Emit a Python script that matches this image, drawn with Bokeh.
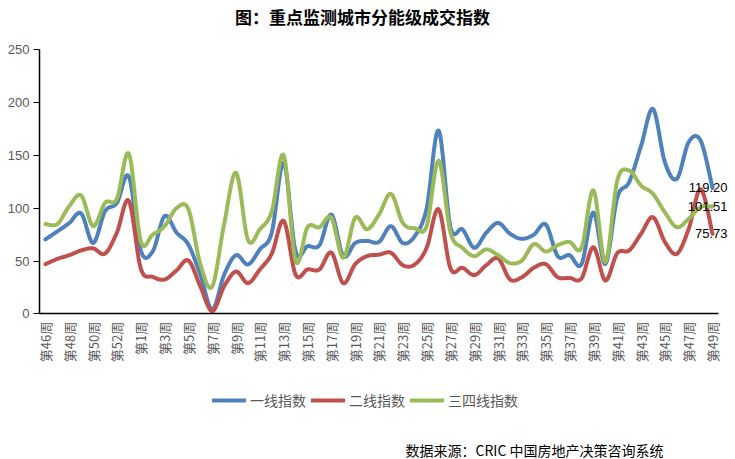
import numpy as np
from bokeh.plotting import figure
from bokeh.models import (Range1d, FixedTicker, Label, Legend, LegendItem)
from bokeh.embed import file_html
from bokeh.resources import INLINE

# ---- data ----
weeks = [46, 47, 48, 49, 50, 51, 52, 53] + list(range(1, 50))
tick_labels = ["第%d周" % w for w in weeks]

series_names = ["一线指数", "二线指数", "三四线指数"]

tier1 = [70.5, 78, 86, 95, 67, 97, 105, 130, 60, 59,
         92.5, 77, 65.5, 37, 4, 37, 55.5, 46.7, 61, 77,
         143, 59, 64, 65, 94, 54.6, 67, 69, 68, 83,
         67, 73.5, 100, 173.6, 82, 80, 62.5, 76.7, 86, 75.8,
         71, 75, 84.6, 54.6, 55.5, 47, 96, 47, 110, 124.7,
         159, 194, 143.6, 127.8, 162.6, 164, 119.20]

tier2 = [47, 52, 55.5, 60, 62, 57, 77, 107, 43, 35,
         32.5, 41, 50.5, 26, 2.5, 26, 40, 29, 42, 57,
         88, 37, 42, 42, 58, 29, 47, 54.6, 56, 57.8,
         46, 46.7, 62.5, 99, 43, 43.6, 36.6, 46, 52.4, 32.5,
         34.7, 43.6, 47, 34.7, 34, 33.5, 63, 31.5, 57.4, 60,
         75.8, 91.5, 68, 56.8, 80.5, 118, 75.73]

tier34 = [85, 85, 102, 112, 83, 105, 109, 151.5, 69, 75,
          83, 100, 99, 47, 26, 85, 133.5, 70, 80, 97,
          150, 50, 82, 82, 91, 53, 91, 80, 94, 113.6,
          86, 81, 83, 145, 77, 62.5, 54.6, 61, 55.5, 48,
          50.5, 66, 59, 65, 68, 62.5, 117, 49, 126, 135.7,
          121.5, 113.6, 96, 82, 90, 101, 101.51]

colors = ["#4F81BD", "#C0504D", "#9BBB59"]
title_text = "图：重点监测城市分能级成交指数"
source_text = "数据来源：CRIC 中国房地产决策咨询系统"


def smooth(ys, n=16):
    """Excel-like smoothed line: cubic Bezier between consecutive points."""
    x = np.arange(len(ys), dtype=float)
    y = np.asarray(ys, dtype=float)
    px = np.concatenate([[x[0]], x, [x[-1]]])
    py = np.concatenate([[y[0]], y, [y[-1]]])
    outx, outy = [], []
    t = np.linspace(0, 1, n, endpoint=False)
    for i in range(len(y) - 1):
        p0x, p0y = px[i + 1], py[i + 1]
        p3x, p3y = px[i + 2], py[i + 2]
        c1x = p0x + (px[i + 2] - px[i]) / 6.0
        c1y = p0y + (py[i + 2] - py[i]) / 6.0
        c2x = p3x - (px[i + 3] - px[i + 1]) / 6.0
        c2y = p3y - (py[i + 3] - py[i + 1]) / 6.0
        a = (1 - t) ** 3
        b = 3 * (1 - t) ** 2 * t
        c = 3 * (1 - t) * t ** 2
        d = t ** 3
        outx.extend(a * p0x + b * c1x + c * c2x + d * p3x)
        outy.extend(a * p0y + b * c1y + c * c2y + d * p3y)
    outx.append(x[-1])
    outy.append(y[-1])
    return outx, outy


n = len(weeks)
W, H = 735, 459
# plot area in the canvas: x 39..718, y 49.3..313.3
px_per_x = 679.0 / n
px_per_y = 264.0 / 250.0
x0 = -0.5 - 39.0 / px_per_x
x1 = n - 0.5 + (W - 718.0) / px_per_x
y1 = 250 + 49.3 / px_per_y
y0 = -(H - 313.3) / px_per_y

p = figure(width=W, height=H, output_backend="svg", toolbar_location=None,
           x_range=Range1d(x0, x1), y_range=Range1d(y0, y1), min_border=0,
           title=None)
p.outline_line_color = None
p.xgrid.grid_line_color = None
p.ygrid.grid_line_color = None
p.background_fill_color = "white"
p.border_fill_color = "white"

# axes placed at fixed data positions
p.yaxis.fixed_location = -0.5
p.yaxis.bounds = (0, 250)
p.yaxis.ticker = FixedTicker(ticks=[0, 50, 100, 150, 200, 250])
p.yaxis.major_tick_out = 6
p.yaxis.major_tick_in = 0
p.yaxis.minor_tick_out = 0
p.yaxis.minor_tick_in = 0
p.yaxis.axis_line_color = "black"
p.yaxis.axis_line_width = 1.5
p.yaxis.major_tick_line_color = "black"
p.yaxis.major_label_text_color = "#595959"
p.yaxis.major_label_text_font = "Liberation Sans"
p.yaxis.major_label_text_font_size = "13px"
p.yaxis.major_label_standoff = 4

p.xaxis.fixed_location = 0
p.xaxis.bounds = (-0.5, n - 0.5)
p.xaxis.ticker = FixedTicker(ticks=list(range(0, n, 2)))
p.xaxis.major_label_overrides = {i: tick_labels[i] for i in range(0, n, 2)}
p.xaxis.major_label_orientation = np.pi / 2
p.xaxis.major_tick_out = 0
p.xaxis.major_tick_in = 0
p.xaxis.minor_tick_out = 0
p.xaxis.minor_tick_in = 0
p.xaxis.axis_line_color = "black"
p.xaxis.axis_line_width = 1.5
p.xaxis.major_label_text_color = "#595959"
p.xaxis.major_label_text_font = "Noto Sans CJK SC"
p.xaxis.major_label_text_font_size = "13px"
p.xaxis.major_label_standoff = 8

renderers = []
for ys, col in zip([tier1, tier2, tier34], colors):
    sx, sy = smooth(ys)
    r = p.line(sx, sy, line_color=col, line_width=4, line_join="round", line_cap="round")
    renderers.append(r)

# end labels
for ys in [tier1, tier2, tier34]:
    p.add_layout(Label(x=n - 1, y=ys[-1], text="%.2f" % ys[-1], x_offset=15,
                       text_align="right", text_baseline="middle",
                       text_font="Liberation Sans", text_font_size="13px",
                       text_color="black"))

legend = Legend(items=[LegendItem(label=nm, renderers=[r]) for nm, r in zip(series_names, renderers)],
                orientation="horizontal", location=(212, 49),
                glyph_width=34, glyph_height=16, label_standoff=4, spacing=5,
                padding=0, margin=0, border_line_color=None, background_fill_alpha=0,
                label_text_font="Noto Sans CJK SC", label_text_font_size="14px",
                label_text_color="#595959")
p.add_layout(legend)

p.add_layout(Label(x=362, y=H - 16, x_units="screen", y_units="screen",
                   text=title_text, text_align="center", text_baseline="middle",
                   text_font="Noto Sans CJK SC", text_font_size="17px",
                   text_font_style="bold", text_color="black"))

p.add_layout(Label(x=405, y=H - 449, x_units="screen", y_units="screen",
                   text=source_text, text_align="left", text_baseline="middle",
                   text_font="Noto Sans CJK SC", text_font_size="14px",
                   text_color="black"))

open("out.html", "w").write(file_html(p, INLINE))
